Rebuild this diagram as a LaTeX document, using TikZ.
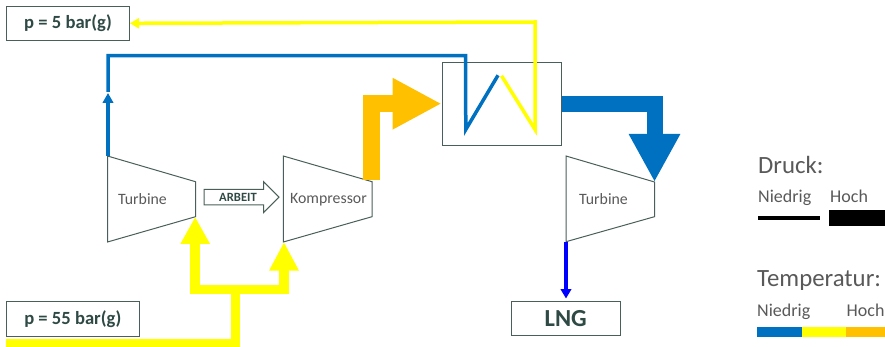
\documentclass[tikz,border=0pt]{standalone}
\usepackage{fontspec}
\setmainfont{Carlito}
\usetikzlibrary{arrows.meta}
\definecolor{cblue}{HTML}{0070C0}
\definecolor{cyel}{HTML}{FFFF00}
\definecolor{corg}{HTML}{FFC000}
\definecolor{cedge}{HTML}{4A5F5A}
\definecolor{ctxt}{HTML}{2F4A44}
\definecolor{cgrey}{HTML}{595959}
\tikzset{
 x=1pt,y=-1pt,
 labelbox/.style={draw=cedge,line width=1pt,inner sep=0pt,font=\fontsize{18.6}{22}\selectfont\bfseries,text=ctxt},
 machine/.style={draw=cedge,line width=1pt,line join=miter},
 machlabel/.style={font=\fontsize{15.8}{18}\selectfont,text=cgrey,inner sep=0pt},
 legtitle/.style={font=\fontsize{24.8}{28}\selectfont,text=cgrey,inner sep=0pt,anchor=base west},
 legtext/.style={font=\fontsize{18}{21}\selectfont,text=cgrey,inner sep=0pt,anchor=base west},
 thinflow/.style={line width=3.5pt,line join=miter},
}
\begin{document}
\begin{tikzpicture}
\useasboundingbox (0,0) rectangle (885,347);
% boxes
\node[labelbox,minimum width=123pt,minimum height=34.5pt] (p5) at (68,23.3) {p = 5 bar(g)};
\node[labelbox,minimum width=132.5pt,minimum height=34.5pt] (p55) at (72.8,319) {p = 55 bar(g)};
\node[labelbox,minimum width=108.7pt,minimum height=34.5pt,font=\fontsize{24.5}{28}\selectfont\bfseries] (lng) at (565.7,318.5) {LNG};
\node[draw=cedge,line width=1pt,minimum width=119.3pt,minimum height=82.7pt,inner sep=0pt] (hx) at (501.7,103.7) {};
% machines
\coordinate (t1a) at (107.5,156); \coordinate (t1b) at (195.5,181.7); \coordinate (t1c) at (195.5,216.7); \coordinate (t1d) at (107.5,242);
\draw[machine] (t1a)--(t1b)--(t1c)--(t1d)--cycle;
\node[machlabel] (t1) at (142.5,199.5) {Turbine};
\coordinate (k1a) at (283.3,156); \coordinate (k1b) at (372,181.7); \coordinate (k1c) at (372,216.7); \coordinate (k1d) at (283.3,242);
\draw[machine] (k1a)--(k1b)--(k1c)--(k1d)--cycle;
\node[machlabel] (k1) at (328.5,199.5) {Kompressor};
\coordinate (t2a) at (566,156); \coordinate (t2b) at (654.5,182); \coordinate (t2c) at (654.5,216.7); \coordinate (t2d) at (566,241.7);
\draw[machine] (t2a)--(t2b)--(t2c)--(t2d)--cycle;
\node[machlabel] (t2) at (603.5,199.5) {Turbine};
% ARBEIT arrow
\draw[draw=cedge,line width=1pt,line join=miter] (204,189.5) -- (263.5,189.5) -- (263.5,181.7) -- (279,197.2) -- (263.5,212.7) -- (263.5,205) -- (204,205) -- cycle;
\node[font=\fontsize{12.6}{14}\selectfont\bfseries,text=ctxt,inner sep=0pt] (arbl) at (238,197) {ARBEIT};
% yellow feed
\coordinate (feed) at (6,343.3);
\coordinate (split) at (235.3,289.7);
\draw[cyel,line width=9.5pt,line join=miter] (feed) -- (feed-|split) -- ([yshift=4.7pt]split);
\draw[cyel,line width=9.5pt,line join=miter,-{Triangle[length=27pt,width=27.5pt]}] (split) -| (195.2,216.9);
\draw[cyel,line width=9.5pt,line join=miter,-{Triangle[length=28.5pt,width=27.5pt]}] (split) -| (284,242);
% orange
\draw[corg,line width=17pt,line join=miter,-{Triangle[length=49pt,width=48pt]}] (371.5,180) |- (hx.west);
% big blue
\draw[cblue,line width=16pt,line join=miter,-{Triangle[length=48pt,width=48pt]}] (hx.east|-0,104) -| (t2b);
% thin blue
\coordinate (bm) at (108,93);
\draw[cblue,line width=3.5pt,-{Triangle[length=10pt,width=10.5pt]}] (108,156) -- (bm);
\draw[cblue,thinflow] (108,92) -- (108,55.7) -- (465.5,55.7) -- (465.8,129.5) -- (498,75.3);
% thin yellow
\draw[cyel,thinflow,-{Triangle[length=9pt,width=10pt]}] (501.5,75.8) -- (535,129.5) -- (535,22) -- (p5.east);
% turbine outlet
\draw[blue,line width=4pt,-{Triangle[length=9.5pt,width=10.5pt]}] (t2d) -- (566,298.5);
% legend
\node[legtitle] (ld) at (758,173.5) {Druck:};
\node[legtext] (ln1) at (758,203) {Niedrig};
\node[legtext] (lh1) at (830,203) {Hoch};
\draw[black,line width=4pt] (758,218) -- (820,218);
\fill[black] (829,210) rectangle (885,226);
\node[legtitle] (lt) at (757,286) {Temperatur:};
\node[legtext] (ln2) at (757,316) {Niedrig};
\node[legtext] (lh2) at (846.5,316) {Hoch};
\fill[cblue] (757,327) rectangle (802,337);
\fill[cyel] (802,327) rectangle (846,337);
\fill[corg] (846,327) rectangle (885,337);
\end{tikzpicture}
\end{document}
